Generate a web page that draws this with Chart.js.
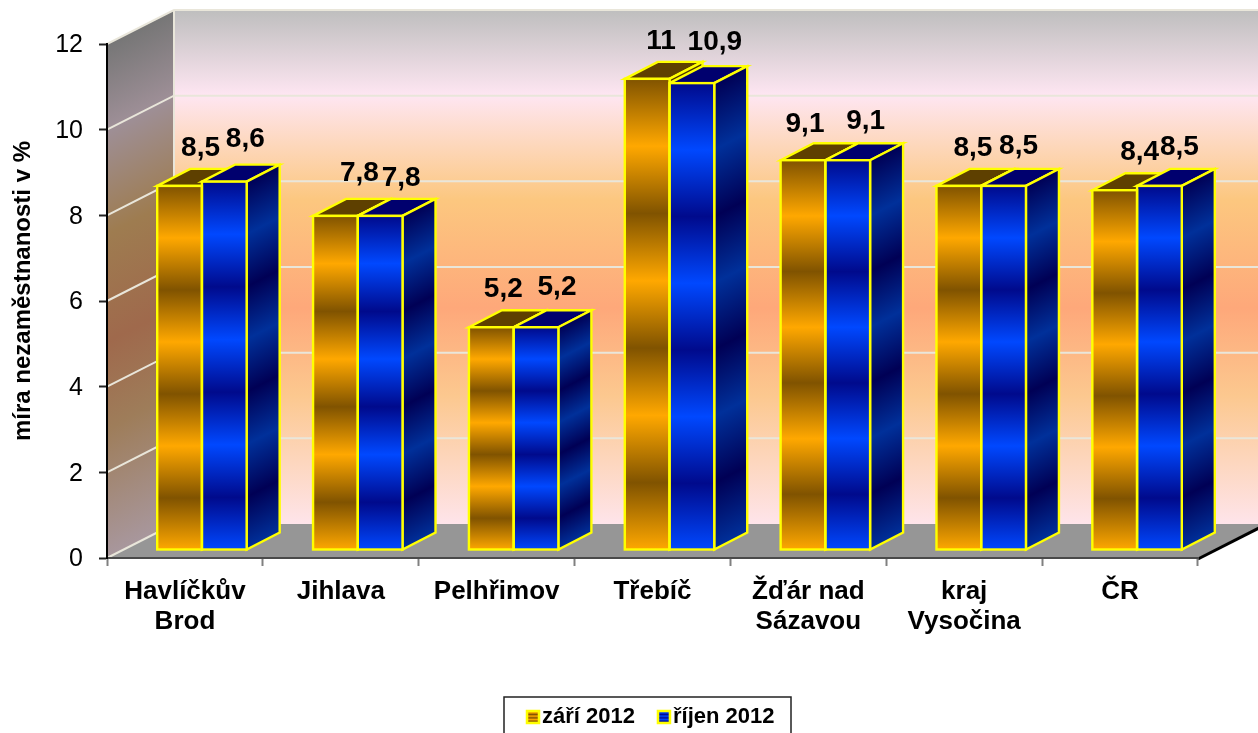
<!DOCTYPE html>
<html>
<head>
    <title>Míra nezaměstnanosti</title>
    <script src="https://cdn.jsdelivr.net/npm/chart.js"></script>
    <style>
        html, body { margin: 0; padding: 0; background: #fff; overflow: hidden; }
        canvas { display: block; }
    </style>
</head>
<body>
    <canvas id="chart" width="1258" height="733"></canvas>

    <script>
        const categories = [['Havlíčkův', 'Brod'], 'Jihlava', 'Pelhřimov', 'Třebíč', ['Žďár nad', 'Sázavou'], ['kraj', 'Vysočina'], 'ČR'];
        const zari2012 = [8.5, 7.8, 5.2, 11, 9.1, 8.5, 8.4];
        const rijen2012 = [8.6, 7.8, 5.2, 10.9, 9.1, 8.5, 8.5];
        const seriesNames = ['září 2012', 'říjen 2012'];
        const yTicks = [0, 2, 4, 6, 8, 10, 12];

        // where each value label sits relative to the top of its bar, as placed in the picture
        const labelOffsetsZari = [[21, -38], [24, -43], [12, -38], [14, -38], [2, -36], [14, -38], [25, -38]];
        const labelOffsetsRijen = [[21, -42], [21, -38], [21, -40], [23, -41], [18, -39], [15, -40], [20, -39]];

        // 3D look: wall depth, bar depth and how far the bars stand off the front edge
        const WALL_DX = 67, WALL_DY = -34;
        const BAR_DX = 33, BAR_DY = -17;
        const BAR_SHIFT_X = 17, BAR_SHIFT_Y = -8;
        const EDGE = '#ffff00';
        const EDGE_WIDTH = 2.4;
        const GRID = '#e9e6da';

        const looks = [
            { dark: '#805300', light: '#ffa800', top: '#5e4000', sideDark: '#4a3000', sideLight: '#8a5c00' },
            { dark: '#000a8c', light: '#0048ff', top: '#00006e', sideDark: '#000055', sideLight: '#00309a' }
        ];

        function addStripes(grad, look, dark, light) {
            for (let k = 0; k <= 7; k++) grad.addColorStop(k / 7, k % 2 ? light : dark);
            return grad;
        }

        function frontFill(look) {
            return (c) => {
                const chart = c.chart;
                if (!chart.chartArea || !c.parsed) return look.light;
                const y = chart.scales.y;
                const grad = chart.ctx.createLinearGradient(0, y.getPixelForValue(c.parsed.y), 0, y.getPixelForValue(0));
                return addStripes(grad, look, look.dark, look.light);
            };
        }

        const walls3d = {
            id: 'walls3d',
            beforeDraw(chart) {
                const { ctx, chartArea: a, scales } = chart;
                const y0 = scales.y.getPixelForValue(0);
                const bx = a.left + WALL_DX;
                const by = a.top + WALL_DY;
                const floorBack = y0 + WALL_DY;
                ctx.save();

                // back wall
                const back = ctx.createLinearGradient(0, by, 0, floorBack);
                back.addColorStop(0, '#bebebe');
                back.addColorStop(0.166, '#fee6f2');
                back.addColorStop(0.37, '#fcc77f');
                back.addColorStop(0.58, '#fea87a');
                back.addColorStop(0.75, '#fcc88f');
                back.addColorStop(1, '#fee4ea');
                ctx.fillStyle = back;
                ctx.fillRect(bx, by, a.right + WALL_DX - bx, floorBack - by);

                // left wall, bands run along the depth direction
                const h = y0 - a.top;
                const s = h * WALL_DX / (WALL_DX * WALL_DX + WALL_DY * WALL_DY);
                const left = ctx.createLinearGradient(a.left, a.top, a.left - WALL_DY * s, a.top + WALL_DX * s);
                left.addColorStop(0, '#767676');
                left.addColorStop(0.166, '#9e8f97');
                left.addColorStop(0.37, '#9e7c50');
                left.addColorStop(0.58, '#9f694c');
                left.addColorStop(0.75, '#9e7d5a');
                left.addColorStop(1, '#a8979d');
                ctx.fillStyle = left;
                ctx.beginPath();
                ctx.moveTo(a.left, y0);
                ctx.lineTo(bx, floorBack);
                ctx.lineTo(bx, by);
                ctx.lineTo(a.left, a.top);
                ctx.closePath();
                ctx.fill();

                // floor
                ctx.fillStyle = '#969696';
                ctx.beginPath();
                ctx.moveTo(a.left, y0);
                ctx.lineTo(a.right, y0);
                ctx.lineTo(a.right + WALL_DX, floorBack);
                ctx.lineTo(bx, floorBack);
                ctx.closePath();
                ctx.fill();

                // grid lines on both walls
                ctx.strokeStyle = GRID;
                ctx.lineWidth = 2;
                yTicks.forEach(t => {
                    const py = scales.y.getPixelForValue(t);
                    ctx.beginPath();
                    ctx.moveTo(a.left, py);
                    ctx.lineTo(bx, py + WALL_DY);
                    if (t > 0) ctx.lineTo(a.right + WALL_DX, py + WALL_DY);
                    ctx.stroke();
                });
                ctx.beginPath();
                ctx.moveTo(bx, by);
                ctx.lineTo(bx, floorBack);
                ctx.stroke();

                // right floor edge
                ctx.strokeStyle = '#000';
                ctx.lineWidth = 3;
                ctx.beginPath();
                ctx.moveTo(a.right, y0 + 1);
                ctx.lineTo(a.right + WALL_DX, floorBack + 1);
                ctx.stroke();
                ctx.restore();
            },
            beforeDatasetsDraw(chart) {
                const { ctx } = chart;
                ctx.save();
                ctx.translate(BAR_SHIFT_X, BAR_SHIFT_Y);
                ctx.lineWidth = EDGE_WIDTH;
                ctx.strokeStyle = EDGE;
                ctx.lineJoin = 'miter';
                [0, 1].forEach(i => {
                    const look = looks[i];
                    chart.getDatasetMeta(i).data.forEach(bar => {
                        const l = bar.x - bar.width / 2;
                        const r = bar.x + bar.width / 2;
                        const top = bar.y;
                        const base = bar.base;

                        // top face
                        ctx.fillStyle = look.top;
                        ctx.beginPath();
                        ctx.moveTo(l, top);
                        ctx.lineTo(r, top);
                        ctx.lineTo(r + BAR_DX, top + BAR_DY);
                        ctx.lineTo(l + BAR_DX, top + BAR_DY);
                        ctx.closePath();
                        ctx.fill();
                        ctx.stroke();

                        // side face
                        const h = base - top;
                        const s = h * BAR_DX / (BAR_DX * BAR_DX + BAR_DY * BAR_DY);
                        const grad = ctx.createLinearGradient(r, top, r - BAR_DY * s, top + BAR_DX * s);
                        ctx.fillStyle = addStripes(grad, look, look.sideDark, look.sideLight);
                        ctx.beginPath();
                        ctx.moveTo(r, top);
                        ctx.lineTo(r + BAR_DX, top + BAR_DY);
                        ctx.lineTo(r + BAR_DX, base + BAR_DY);
                        ctx.lineTo(r, base);
                        ctx.closePath();
                        ctx.fill();
                        ctx.stroke();
                    });
                });
            },
            afterDatasetsDraw(chart) {
                const { ctx } = chart;

                // yellow outline of the front faces, centred on the bar edges
                [0, 1].forEach(i => {
                    chart.getDatasetMeta(i).data.forEach(bar => {
                        ctx.strokeRect(bar.x - bar.width / 2, bar.y, bar.width, bar.base - bar.y);
                    });
                });
                ctx.restore();

                // value labels
                ctx.save();
                ctx.fillStyle = '#000';
                ctx.font = 'bold 28px "Liberation Sans", Arial, sans-serif';
                ctx.textAlign = 'center';
                ctx.textBaseline = 'middle';
                [labelOffsetsZari, labelOffsetsRijen].forEach((offsets, i) => {
                    const values = chart.data.datasets[i].data;
                    chart.getDatasetMeta(i).data.forEach((bar, j) => {
                        const text = String(values[j]).replace('.', ',');
                        ctx.fillText(text, bar.x + BAR_SHIFT_X + offsets[j][0], bar.y + BAR_SHIFT_Y + offsets[j][1]);
                    });
                });
                ctx.restore();
            }
        };

        // legend sits in a frame that runs off the bottom of the picture
        const legendFrame = {
            id: 'legendFrame',
            afterLayout(chart) {
                const lg = chart.legend;
                const w = lg.right - lg.left;
                lg.left = 504;
                lg.right = lg.left + w;
                lg.top = 684;
                lg.bottom = lg.top + 66;
                lg.adjustHitBoxes();

                // axis title sits a little above the middle of the axis in the picture
                const y = chart.scales.y;
                const drawTitle = y.drawTitle;
                y.drawTitle = function () {
                    chart.ctx.save();
                    chart.ctx.translate(1, -10);
                    drawTitle.call(y);
                    chart.ctx.restore();
                };
            },
            afterDraw(chart) {
                const { ctx, legend } = chart;
                ctx.save();
                ctx.strokeStyle = '#222';
                ctx.lineWidth = 1.5;
                ctx.strokeRect(504, 697, 287, 60);
                legend.legendHitBoxes.forEach((box, i) => {
                    const look = looks[i];
                    const x = box.left + 1;
                    const y = legend.top + 27;
                    ctx.fillStyle = addStripes(ctx.createLinearGradient(0, y, 0, y + 12), look, look.dark, look.light);
                    ctx.fillRect(x, y, 12, 12);
                    ctx.strokeStyle = EDGE;
                    ctx.lineWidth = 2.5;
                    ctx.strokeRect(x, y, 12, 12);
                });
                ctx.restore();
            }
        };

        new Chart(document.getElementById('chart').getContext('2d'), {
            type: 'bar',
            data: {
                labels: categories,
                datasets: [
                    { label: seriesNames[0], data: zari2012, backgroundColor: frontFill(looks[0]), borderWidth: 0, clip: false },
                    { label: seriesNames[1], data: rijen2012, backgroundColor: frontFill(looks[1]), borderWidth: 0, clip: false }
                ]
            },
            options: {
                responsive: false,
                animation: false,
                layout: { padding: { top: 44, right: 60, left: 0, bottom: 0 } },
                categoryPercentage: 0.574,
                barPercentage: 1,
                plugins: {
                    tooltip: { enabled: false },
                    legend: {
                        position: 'bottom',
                        align: 'start',
                        labels: {
                            color: '#000',
                            boxWidth: 5,
                            boxHeight: 5,
                            padding: 22,
                            font: { family: '"Liberation Sans", Arial, sans-serif', size: 22, weight: 'bold' },
                            generateLabels: (chart) => chart.data.datasets.map((d, i) => ({
                                text: d.label,
                                fillStyle: 'transparent',
                                strokeStyle: 'transparent',
                                lineWidth: 0,
                                datasetIndex: i
                            }))
                        }
                    }
                },
                scales: {
                    x: {
                        afterFit: (axis) => { axis.height = 121; },
                        border: { color: '#4a4a4a', width: 2 },
                        grid: { drawOnChartArea: false, tickLength: 8, tickColor: '#808080', tickWidth: 2 },
                        ticks: {
                            color: '#000',
                            autoSkip: false,
                            maxRotation: 0,
                            padding: 11,
                            font: { family: '"Liberation Sans", Arial, sans-serif', size: 26, weight: 'bold', lineHeight: 1.15 }
                        }
                    },
                    y: {
                        min: 0,
                        max: 12,
                        afterFit: (axis) => { axis.width = 107; },
                        border: { color: '#000', width: 2 },
                        grid: { drawOnChartArea: false, tickLength: 8, tickColor: '#222', tickWidth: 2 },
                        ticks: {
                            stepSize: 2,
                            color: '#000',
                            padding: 16,
                            labelOffset: 1.5,
                            font: { family: '"Liberation Sans", Arial, sans-serif', size: 25 }
                        },
                        title: {
                            display: true,
                            text: 'míra nezaměstnanosti v %',
                            color: '#000',
                            padding: { top: 8, bottom: 0 },
                            font: { family: '"Liberation Sans", Arial, sans-serif', size: 24, weight: 'bold' }
                        }
                    }
                }
            },
            plugins: [walls3d, legendFrame]
        });
    </script>
</body>
</html>
